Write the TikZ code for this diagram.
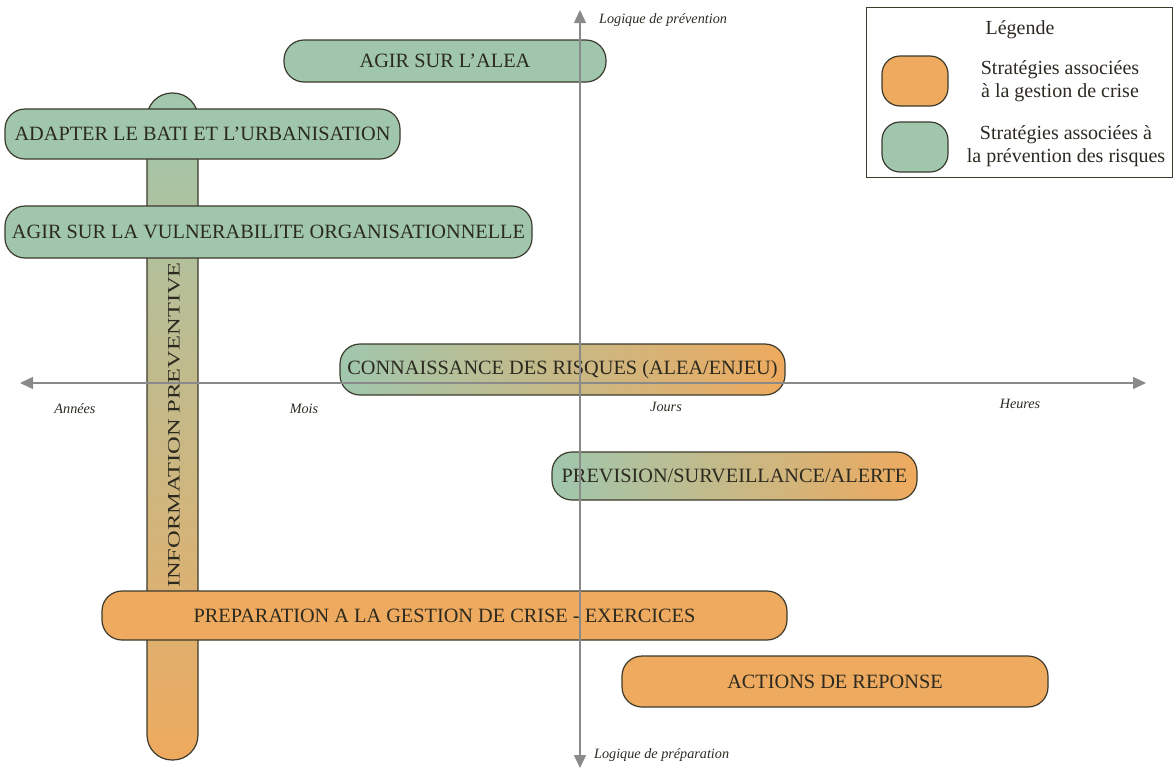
\documentclass[tikz,border=0pt]{standalone}
\usepackage{fontspec}
\setmainfont{Liberation Serif}
\usetikzlibrary{arrows.meta}
\definecolor{pgreen}{HTML}{A0C7AE}
\definecolor{porange}{HTML}{EEAA5E}
\definecolor{bord}{HTML}{3C3A2C}
\definecolor{txt}{HTML}{2C2A20}
\definecolor{axisgray}{HTML}{8A8A8A}
\tikzset{
  box/.style={rectangle, rounded corners=20pt, draw=bord, line width=1.2pt, inner sep=0pt,
    text=txt, font=\fontsize{20.3}{23}\selectfont},
  gbox/.style={box, fill=pgreen},
  obox/.style={box, fill=porange},
  hgrad/.style={box, left color=pgreen, right color=porange},
  axisline/.style={draw=axisgray, line width=1.4pt, -{Triangle[length=13pt,width=12pt]}},
  axlab/.style={font=\fontsize{14.2}{16}\selectfont\itshape, text=txt, inner sep=0pt},
  legtext/.style={font=\fontsize{20}{23.5}\selectfont, text=txt, align=center, inner sep=0pt},
  swatch/.style={rectangle, rounded corners=18pt, draw=bord, line width=1.2pt, minimum width=66pt, minimum height=50pt, inner sep=0pt}
}
\begin{document}
\begin{tikzpicture}[x=1pt,y=-1pt]
\useasboundingbox (0,0) rectangle (1176,769);
% vertical bar
\node[box, top color=pgreen, bottom color=porange, rounded corners=25pt,
  minimum width=51pt, minimum height=667pt] (info) at (172.5,426.5) {};
\node[rotate=90, text=txt, font=\fontsize{17.5}{20}\selectfont, inner sep=0pt] (infot) at (174,425) {\scalebox{1.4}[1]{INFORMATION PREVENTIVE}};
% green boxes
\node[gbox, minimum width=322pt, minimum height=42pt] (alea) at (445,61) {AGIR SUR L'ALEA};
\node[gbox, minimum width=395pt, minimum height=50pt] (bati) at (202.5,134) {ADAPTER LE BATI ET L'URBANISATION};
\node[gbox, minimum width=527pt, minimum height=52pt] (vuln) at (268.5,232) {AGIR SUR LA VULNERABILITE ORGANISATIONNELLE};
% gradient boxes
\node[hgrad, minimum width=445pt, minimum height=51pt] (conn) at (562.5,369.5) {CONNAISSANCE DES RISQUES (ALEA/ENJEU)};
\node[hgrad, minimum width=365pt, minimum height=48pt] (prev) at (734.5,476) {PREVISION/SURVEILLANCE/ALERTE};
% orange boxes
\node[obox, minimum width=685pt, minimum height=49pt] (prep) at (444.5,615.5) {PREPARATION A LA GESTION DE CRISE - EXERCICES};
\node[obox, minimum width=426pt, minimum height=51pt] (rep) at (835,681.5) {ACTIONS DE REPONSE};
% axes
\coordinate (xl) at (20,383);
\coordinate (xr) at (1146,383);
\coordinate (yt) at (580,10);
\coordinate (yb) at (580,768);
\coordinate (o) at (580,383);
\draw[axisline] (o) -- (xl);
\draw[axisline] (o) -- (xr);
\draw[axisline] (o) -- (yt);
\draw[axisline] (o) -- (yb);
\node[axlab, anchor=west] (lp) at (599,20) {Logique de prévention};
\node[axlab, anchor=west] (lr) at (594,755) {Logique de préparation};
\node[axlab] (ann) at (75,409) {Années};
\node[axlab] (mois) at (304,409) {Mois};
\node[axlab] (jours) at (666,407) {Jours};
\node[axlab] (heures) at (1020,404) {Heures};
% legend
\node[draw=bord, line width=1pt, minimum width=306pt, minimum height=170pt, inner sep=0pt] (leg) at (1019,92) {};
\node[legtext] (legt) at (1020,30) {Légende};
\node[swatch, fill=porange] (sw1) at (915,81) {};
\node[swatch, fill=pgreen] (sw2) at (915,147) {};
\node[legtext] (l1) at (1060,81) {Stratégies associées\\à la gestion de crise};
\node[legtext] (l2) at (1066,146) {Stratégies associées à\\la prévention des risques};
\end{tikzpicture}
\end{document}
